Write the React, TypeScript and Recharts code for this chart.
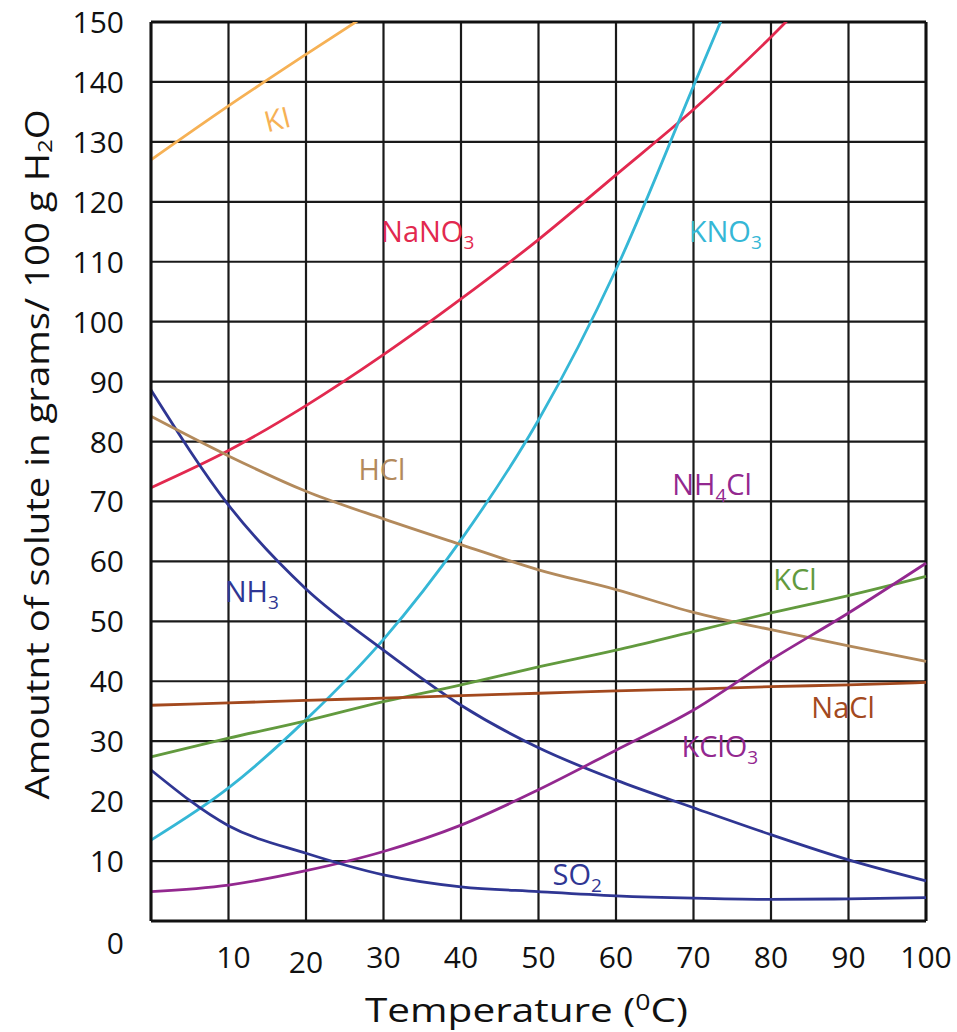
import React from 'react';
import {
  LineChart,
  Line,
  XAxis,
  YAxis,
  CartesianGrid,
  ReferenceLine,
  ReferenceDot,
} from 'recharts';

// temperature in degC, solubility in g / 100 g water
const temps = [0, 10, 20, 30, 40, 50, 60, 70, 80, 90, 100];
const ki = [127, 136, 144.6, 153, null, null, null, null, null, null, null];
const nano3 = [72.3, 78.5, 86, 94.5, 103.8, 113.7, 124.5, 135.4, 147.5, 161, null];
const kno3 = [13.5, 22.2, 33.6, 47, 63.6, 83.6, 108.7, 139.3, 170, null, null];
const nh3 = [88.6, 69.4, 55.4, 45.2, 36, 28.9, 23.5, 18.9, 14.4, 10.2, 6.7];
const hcl = [84.2, 77.6, 71.7, 67.1, 62.8, 58.6, 55.3, 51.5, 48.6, 45.9, 43.3];
const kcl = [27.4, 30.5, 33.4, 36.6, 39.4, 42.4, 45.2, 48.3, 51.4, 54.3, 57.5];
const nacl = [36, 36.4, 36.8, 37.2, 37.6, 38, 38.4, 38.7, 39.1, 39.4, 39.8];
const kclo3 = [4.9, 6, 8.4, 11.6, 16, 21.9, 28.5, 35.2, 43.6, 51.4, 59.7];
const so2 = [25.2, 15.9, 11.3, 7.7, 5.7, 4.9, 4.2, 3.8, 3.6, 3.7, 3.9];

const xTicks = [0, 10, 20, 30, 40, 50, 60, 70, 80, 90, 100];
const yTicks = [0, 10, 20, 30, 40, 50, 60, 70, 80, 90, 100, 110, 120, 130, 140, 150];

const series = [
  { key: 'KI', values: ki, color: '#F6B155' },
  { key: 'NaNO3', values: nano3, color: '#E2294F' },
  { key: 'KNO3', values: kno3, color: '#35B7D6' },
  { key: 'NH3', values: nh3, color: '#2F3693' },
  { key: 'HCl', values: hcl, color: '#B38A5C' },
  { key: 'KCl', values: kcl, color: '#629A3E' },
  { key: 'NaCl', values: nacl, color: '#A3491E' },
  { key: 'KClO3', values: kclo3, color: '#93288F' },
  { key: 'SO2', values: so2, color: '#2F3693' },
];

// curve labels: position in data units, main text, subscript, trailing text
const labels = [
  { t: 16.3, v: 133.7, text: 'KI', sub: '', tail: '', color: '#F6B155', rot: -14 },
  { t: 35.7, v: 114.9, text: 'NaNO', sub: '3', tail: '', color: '#E2294F', rot: 0 },
  { t: 74.1, v: 114.9, text: 'KNO', sub: '3', tail: '', color: '#35B7D6', rot: 0 },
  { t: 29.8, v: 75.3, text: 'HCl', sub: '', tail: '', color: '#B38A5C', rot: 0 },
  { t: 72.4, v: 72.8, text: 'NH', sub: '4', tail: 'Cl', color: '#93288F', rot: 0 },
  { t: 83.1, v: 56.9, text: 'KCl', sub: '', tail: '', color: '#629A3E', rot: 0 },
  { t: 13.0, v: 54.9, text: 'NH', sub: '3', tail: '', color: '#2F3693', rot: 0 },
  { t: 89.3, v: 35.6, text: 'NaCl', sub: '', tail: '', color: '#A3491E', rot: 0 },
  { t: 73.4, v: 29.0, text: 'KClO', sub: '3', tail: '', color: '#93288F', rot: 0 },
  { t: 55.0, v: 7.7, text: 'SO', sub: '2', tail: '', color: '#2F3693', rot: 0 },
];

const data = temps.map((t, i) => {
  const row: any = { t };
  series.forEach((s) => {
    row[s.key] = s.values[i];
  });
  return row;
});

const FONT = '"Open Sans", sans-serif';

const XTick = (props: any) => {
  const { x, y, payload } = props;
  if (payload.value === 0) return null;
  const dx = payload.value === 10 ? 5 : 0;
  const dy = payload.value === 20 ? 5 : 0;
  return (
    <text x={x + dx} y={y + 47 + dy} textAnchor="middle" fontSize={30} fontFamily={FONT} fill="#111">
      {payload.value}
    </text>
  );
};

const YTick = (props: any) => {
  const { x, y, payload } = props;
  const dy = payload.value === 0 ? 22 : 0;
  return (
    <text x={x} y={y + dy + 11} textAnchor="end" fontSize={30} fontFamily={FONT} fill="#111">
      {payload.value}
    </text>
  );
};

const YTitle = (props: any) => {
  const vb = props.viewBox;
  const cx = vb.x + 36;
  const cy = vb.y + vb.height / 2 - 17;
  return (
    <text
      x={cx}
      y={cy}
      transform={`rotate(-90 ${cx} ${cy})`}
      textAnchor="middle"
      dominantBaseline="central"
      fontSize={32}
      fontFamily={FONT}
      fill="#111"
      textLength={690}
      lengthAdjust="spacingAndGlyphs"
    >
      Amoutnt of solute in grams/ 100 g H
      <tspan fontSize={20} dy={8}>2</tspan>
      <tspan dy={-8}>O</tspan>
    </text>
  );
};

const XTitle = (props: any) => {
  const vb = props.viewBox;
  return (
    <text
      x={vb.x + vb.width / 2 - 12}
      y={vb.y + 101}
      textAnchor="middle"
      fontSize={32}
      fontFamily={FONT}
      fill="#111"
      textLength={323}
      lengthAdjust="spacingAndGlyphs"
    >
      Temperature (<tspan fontSize={21} dy={-12}>0</tspan>
      <tspan dy={12}>C)</tspan>
    </text>
  );
};

const makeLabel = (l: any) => (props: any) => {
  const { cx, cy } = props;
  return (
    <text
      x={cx}
      y={cy + 10}
      textAnchor="middle"
      fontSize={29}
      fontFamily={FONT}
      fill={l.color}
      transform={l.rot ? `rotate(${l.rot} ${cx} ${cy})` : undefined}
    >
      {l.text}
      {l.sub && (
        <tspan fontSize={19} dy={7}>
          {l.sub}
        </tspan>
      )}
      {l.tail && <tspan fontSize={29} dy={-7}>{l.tail}</tspan>}
    </text>
  );
};

export default function App() {
  return (
    <div style={{ position: 'absolute', left: 0, top: 0, width: 957, height: 1032, background: '#fff' }}>
      <LineChart width={957} height={1032} data={data} margin={{ top: 22, right: 31, left: 0, bottom: 0 }}>
        <CartesianGrid stroke="#1a1a1a" strokeWidth={2.2} strokeOpacity={1} horizontalValues={yTicks} verticalValues={xTicks} />
        <XAxis
          type="number"
          dataKey="t"
          domain={[0, 100]}
          ticks={xTicks}
          interval={0}
          height={111}
          tickSize={0}
          tickMargin={0}
          tickLine={false}
          axisLine={{ stroke: '#111', strokeWidth: 3 }}
          tick={<XTick />}
          label={{ content: <XTitle /> }}
        />
        <YAxis
          type="number"
          domain={[0, 150]}
          ticks={yTicks}
          interval={0}
          allowDataOverflow
          width={151}
          tickSize={0}
          tickMargin={27}
          tickLine={false}
          axisLine={{ stroke: '#111', strokeWidth: 3 }}
          tick={<YTick />}
          label={{ content: <YTitle /> }}
        />
        <ReferenceLine y={150} stroke="#111" strokeWidth={3} />
        <ReferenceLine x={100} stroke="#111" strokeWidth={3} />
        {series.map((s) => (
          <Line
            key={s.key}
            dataKey={s.key}
            type="monotone"
            stroke={s.color}
            strokeWidth={2.8}
            dot={false}
            activeDot={false}
            connectNulls={false}
            isAnimationActive={false}
          />
        ))}
        {labels.map((l) => (
          <ReferenceDot key={l.text + l.sub + l.tail} x={l.t} y={l.v} r={0} ifOverflow="visible" shape={makeLabel(l)} />
        ))}
      </LineChart>
    </div>
  );
}
